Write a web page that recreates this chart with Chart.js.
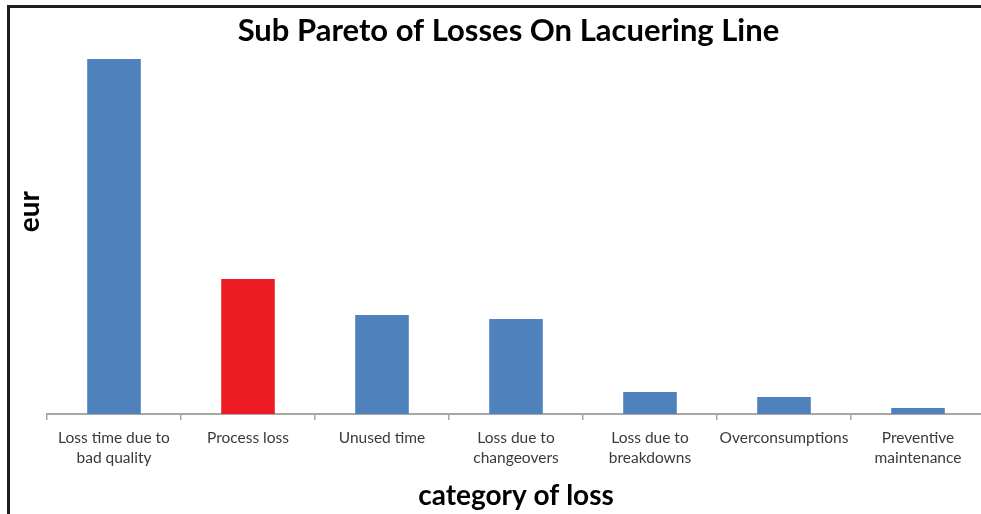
<!DOCTYPE html>
<html>
<head>
<meta charset="utf-8">
<script src="https://cdn.jsdelivr.net/npm/chart.js@4/dist/chart.umd.min.js"></script>
<style>
  html, body { margin: 0; padding: 0; background: #fff; overflow: hidden; }
  #wrap { position: relative; width: 981px; height: 514px; overflow: hidden; background: #fff; }
  #chart { position: absolute; left: 0; top: 0; }
  #frame { position: absolute; left: 7px; top: 5px; width: 990px; height: 520px;
           border-top: 3px solid #1e1e1e; border-left: 3px solid #1e1e1e; pointer-events: none; }
</style>
</head>
<body>
<div id="wrap">
  <canvas id="chart" width="992" height="514"></canvas>
  <div id="frame"></div>
</div>
<script>
// ---- data ----
const categories = [
  ["Loss time due to", "bad quality"],
  ["Process loss"],
  ["Unused time"],
  ["Loss due to", "changeovers"],
  ["Loss due to", "breakdowns"],
  ["Overconsumptions"],
  ["Preventive", "maintenance"]
];
const lossesEur = [35500, 13500, 9900, 9500, 2200, 1700, 600];
const highlightedCategory = "Process loss";

const chartTitle = "Sub Pareto of Losses On Lacuering Line";
const xTitle = "category of loss";
const yTitle = "eur";

// ---- styles ----
const BLUE = "#4F81BD";
const RED = "#ED1C24";
const FONT = "Lato, 'Open Sans', sans-serif";

new Chart(document.getElementById("chart"), {
  type: "bar",
  data: {
    labels: categories,
    datasets: [{
      data: lossesEur,
      backgroundColor: (ctx) => categories[ctx.dataIndex].join(" ") === highlightedCategory ? RED : BLUE,
      borderWidth: 0,
      barPercentage: 0.4,
      categoryPercentage: 1.0
    }]
  },
  options: {
    responsive: false,
    animation: false,
    layout: { padding: { left: 0, right: 7, top: 0, bottom: 0 } },
    plugins: {
      legend: { display: false },
      tooltip: { enabled: false },
      title: {
        display: true,
        fullSize: false,
        text: chartTitle + "  ",
        color: "#000",
        font: { family: FONT, size: 31, weight: "bold", lineHeight: 1.2 },
        padding: { top: 12.4, bottom: 0.4 }
      }
    },
    scales: {
      x: {
        offset: true,
        grid: { display: true, drawOnChartArea: false, drawTicks: true, tickLength: 6, color: "#A8A8A8", lineWidth: 1.5, offset: true },
        border: { display: true, color: "#A8A8A8", width: 2 },
        ticks: { color: "#3a3a3a", padding: 8, maxRotation: 0, autoSkip: false,
                 font: { family: FONT, size: 15.5, lineHeight: "20px" } },
        title: { display: true, text: xTitle, color: "#000",
                 font: { family: FONT, size: 28, weight: "bold", lineHeight: 1.2 },
                 padding: { top: 0, bottom: 1 } },
        afterFit: (s) => { s.height = 100; }
      },
      y: {
        min: 0,
        max: 36400,
        grid: { display: false },
        border: { display: false },
        ticks: { display: false },
        title: { display: true, text: "      " + yTitle, color: "#000",
                 font: { family: FONT, size: 28, weight: "bold", lineHeight: 1.2 },
                 padding: { top: 13, bottom: 0 } },
        afterFit: (s) => { s.width = 47; }
      }
    }
  }
});
</script>
</body>
</html>
